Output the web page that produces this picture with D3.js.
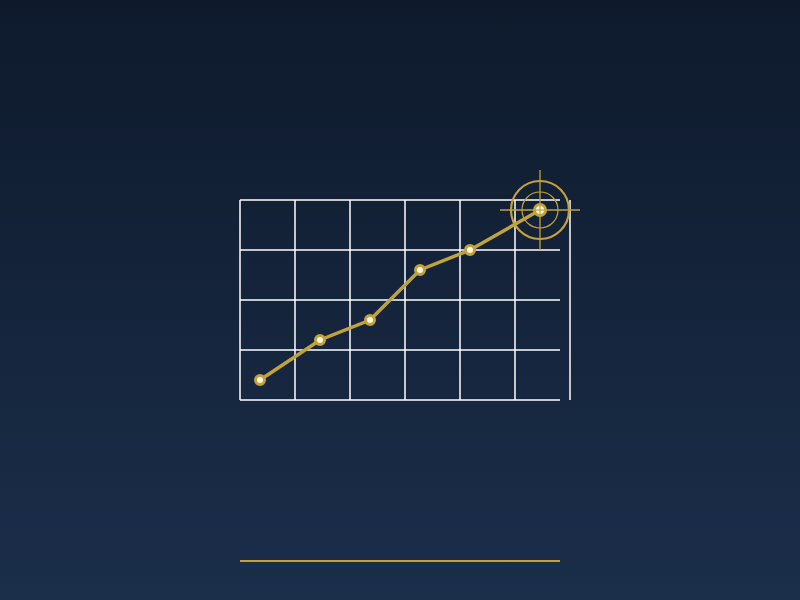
<!DOCTYPE html>
<html><head><meta charset="utf-8">
<script src="https://cdn.jsdelivr.net/npm/d3@7"></script>
<style>html,body{margin:0;padding:0;background:#0f1b2d;}svg{display:block;}</style>
</head><body>
<script>
const xValues = [20, 80, 130, 180, 230, 300];
const yValues = [10, 30, 40, 65, 75, 95];
const xGridTicks = [0, 55, 110, 165, 220, 275, 330];
const yGridTicks = [0, 25, 50, 75, 100];

const W = 800, H = 600;
const svg = d3.select("body").append("svg").attr("width", W).attr("height", H);
const defs = svg.append("defs");
const grad = defs.append("linearGradient").attr("id","bg").attr("x1",0).attr("y1",0).attr("x2",0).attr("y2",1);
grad.append("stop").attr("offset","0%").attr("stop-color","#0e1a2c");
grad.append("stop").attr("offset","100%").attr("stop-color","#1b2e4a");
svg.append("rect").attr("width",W).attr("height",H).attr("fill","url(#bg)");

const x = d3.scaleLinear().domain([0,330]).range([240,570]);
const y = d3.scaleLinear().domain([0,100]).range([400,200]);
const gold = "#c2a23a";
const cream = "#fdf6e0";

const g = svg.append("g");
g.selectAll(".h").data(yGridTicks).join("line")
  .attr("x1", x(0)).attr("x2", x(320))
  .attr("y1", d=>y(d)).attr("y2", d=>y(d))
  .attr("stroke","#ffffff").attr("stroke-width",1.5);
g.selectAll(".v").data(xGridTicks).join("line")
  .attr("x1", d=>x(d)).attr("x2", d=>x(d))
  .attr("y1", y(100)).attr("y2", y(0))
  .attr("stroke","#ffffff").attr("stroke-width",1.5);

const pts = xValues.map((v,i)=>[v,yValues[i]]);
g.append("path").datum(pts)
  .attr("d", d3.line().x(d=>x(d[0])).y(d=>y(d[1])))
  .attr("fill","none").attr("stroke",gold).attr("stroke-width",3.5);

const last = pts[pts.length-1];
const cx = x(last[0]), cy = y(last[1]);
const t = g.append("g");
t.append("circle").attr("cx",cx).attr("cy",cy).attr("r",29).attr("fill","none").attr("stroke",gold).attr("stroke-width",2.2);
t.append("circle").attr("cx",cx).attr("cy",cy).attr("r",18).attr("fill","none").attr("stroke",gold).attr("stroke-width",1.2);
t.append("line").attr("x1",cx-40).attr("x2",cx+40).attr("y1",cy).attr("y2",cy).attr("stroke",gold).attr("stroke-width",1.3);
t.append("line").attr("x1",cx).attr("x2",cx).attr("y1",cy-40).attr("y2",cy+40).attr("stroke",gold).attr("stroke-width",1.3);

g.selectAll(".pt").data(pts.slice(0,-1)).join("circle")
  .attr("cx", d=>x(d[0])).attr("cy", d=>y(d[1])).attr("r",4.5)
  .attr("fill",cream).attr("stroke",gold).attr("stroke-width",3);
t.append("circle").attr("cx",cx).attr("cy",cy).attr("r",5.5)
  .attr("fill",cream).attr("stroke",gold).attr("stroke-width",3);
t.append("line").attr("x1",cx-4).attr("x2",cx+4).attr("y1",cy).attr("y2",cy).attr("stroke",gold).attr("stroke-width",1.2);
t.append("line").attr("x1",cx).attr("x2",cx).attr("y1",cy-4).attr("y2",cy+4).attr("stroke",gold).attr("stroke-width",1.2);

svg.append("line").attr("x1",240).attr("x2",560).attr("y1",561).attr("y2",561)
  .attr("stroke",gold).attr("stroke-width",2);
</script>
</body></html>
